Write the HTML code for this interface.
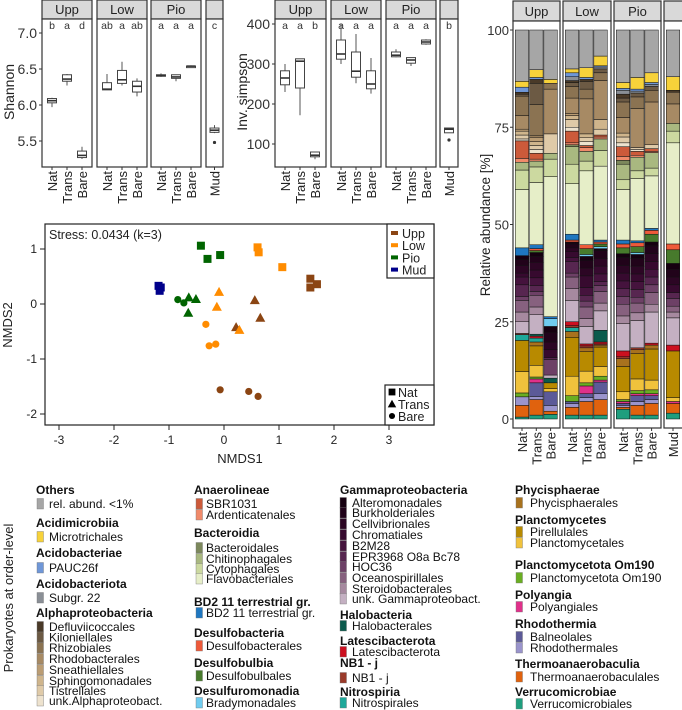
<!DOCTYPE html>
<html><head><meta charset="utf-8">
<style>
html,body{margin:0;padding:0;background:#fff;}
svg{display:block;font-family:"Liberation Sans",Arial,sans-serif;}
</style></head>
<body>
<svg id="fig" width="682" height="710" viewBox="0 0 682 710"></svg>
<script>
// ---------- DATA ----------
const groups = ["Upp","Low","Pio"];
const treatments = ["Nat","Trans","Bare"];
// boxplot stats: [min,q1,median,q3,max]
const shannonStats = [
 [5.97,6.03,6.06,6.09,6.10],[6.27,6.33,6.36,6.42,6.43],[5.25,5.27,5.30,5.36,5.42],
 [6.21,6.21,6.22,6.31,6.43],[6.27,6.30,6.35,6.48,6.60],[6.12,6.18,6.26,6.33,6.37],
 [6.39,6.40,6.41,6.42,6.44],[6.33,6.37,6.39,6.42,6.42],[6.53,6.53,6.54,6.54,6.55]];
const shannonMud = [5.61,5.62,5.65,5.68,5.72];
const shannonMudOutlier = 5.48;
const shannonLetters = ["b","a","d","ab","a","ab","a","a","a"];
const shannonMudLetter = "c";
const shannonTicks = [5.5,6.0,6.5,7.0];
const simpsonStats = [
 [230,248,265,283,300],[172,240,307,313,313],[62,68,72,80,80],
 [300,312,325,360,400],[252,267,282,330,375],[226,238,250,283,315],
 [317,318,322,330,337],[295,302,310,316,316],[348,350,355,360,362]];
const simpsonMud = [128,128,137,140,140];
const simpsonMudOutlier = 110;
const simpsonLetters = ["a","a","b","a","a","a","a","a","a"];
const simpsonMudLetter = "b";
const simpsonTicks = [100,200,300,400];

// NMDS points
const nmdsGroup = ["Upp","Upp","Upp","Upp","Upp","Upp","Upp","Upp","Upp",
 "Low","Low","Low","Low","Low","Low","Low","Low","Low",
 "Pio","Pio","Pio","Pio","Pio","Pio","Pio","Pio",
 "Mud","Mud","Mud"];
const nmdsShape = ["Nat","Nat","Nat","Trans","Trans","Trans","Bare","Bare","Bare",
 "Nat","Nat","Nat","Trans","Trans","Trans","Bare","Bare","Bare",
 "Nat","Nat","Nat","Trans","Trans","Trans","Bare","Bare",
 "Nat","Nat","Nat"];
const nmdsX = [1.57,1.57,1.69,0.56,0.66,0.22,-0.07,0.45,0.62,
 0.61,0.63,1.06,-0.09,-0.13,0.28,-0.33,-0.27,-0.15,
 -0.42,-0.30,-0.07,-0.64,-0.51,-0.65,-0.84,-0.73,
 -1.19,-1.15,-1.17];
const nmdsY = [0.46,0.30,0.36,0.07,-0.25,-0.42,-1.56,-1.59,-1.68,
 1.03,0.94,0.67,0.22,-0.05,-0.47,-0.37,-0.76,-0.73,
 1.06,0.82,0.89,0.12,0.09,-0.16,0.08,0.02,
 0.33,0.30,0.24];
const nmdsXTicks = [-3,-2,-1,0,1,2,3];
const nmdsYTicks = [-2,-1,0,1];

// stacked bars (bottom -> top), Others = remainder
const stackOrder = ["Verrucomicrobiales","Thermoanaerobaculales","Rhodothermales","Balneolales","Polyangiales","Planctomycetota Om190","Planctomycetales","Pirellulales","Phycisphaerales","Nitrospirales","NB1 - j","Latescibacterota","Halobacterales",
 "unk. Gammaproteobact.","Steroidobacterales","Oceanospirillales","HOC36","EPR3968 O8a Bc78","B2M28","Chromatiales","Cellvibrionales","Burkholderiales","Alteromonadales",
 "Bradymonadales","Desulfobulbales","Desulfobacterales","BD2 11 terrestrial gr.",
 "Flavobacteriales","Cytophagales","Chitinophagales","Bacteroidales",
 "Ardenticatenales","SBR1031",
 "unk.Alphaproteobact.","Tistrellales","Sphingomonadales","Sneathiellales","Rhodobacterales","Rhizobiales","Kiloniellales","Defluviicoccales",
 "Subgr. 22","PAUC26f","Microtrichales"];
const stackColors = ["#1f9e7e","#e0620e","#9a94cc","#5c5a98","#e0308a","#6aae22","#f0c23c","#b88a00","#a8721e","#1ea89a","#9a3a2a","#cc1020","#0b5a4c",
 "#c4b0c2","#a6899f","#87617f","#6d4066","#572650","#45133d","#370a2f","#2c0624","#21031a","#160010",
 "#70ccef","#477a2c","#ee5a3a","#1f77c0",
 "#e6eec8","#ccd9a0","#a9b880","#7c885c",
 "#f08a6a","#cc5a3a",
 "#ede2ce","#dfcaa8","#cfb58c","#bb9d74","#a78a64","#8b7352","#6c5a44","#4a3a28",
 "#8a8f96","#6f97d8","#f7d23a"];
const othersColor = "#a6a6a6";
const barSamples = ["Upp-Nat","Upp-Trans","Upp-Bare","Low-Nat","Low-Trans","Low-Bare","Pio-Nat","Pio-Trans","Pio-Bare","Mud"];
const uppNat   = [0.5,3,2.2,0,0,1,5.5,8,0,1.5,0.3,0,0, 3,2.5,3,1,3,2,1,2,1.5,1, 0,0,0,2, 15,5,2,0, 1,4.5, 0.5,1,1,0.5,3.5,5,0.5,0.5, 0,1.3,1.5];
const uppTrans = [1,4,0.8,3.5,1,0.5,3,5,1,1,0,0.5,0.5, 5,2,3,1,1.5,2,2,2,1.5,1, 0,0.5,0.5,1, 16,4,1.5,0, 0.5,1.5, 1,1,1,1,0.5,8,5.5,1, 0,0.5,2];
const uppBare  = [1.2,0.8,1.5,3.5,0,0,0.8,1.5,0,0,0,0,1.2, 0.8,0,0,4,0.5,0,2,2,2.5,1.5, 2,0,0,0.5, 36,4.5,1.5,0, 0,0, 0,5,0,0,11.5,1.5,0,0, 0,0,1];
const lowNat   = [1,2,1,0.5,0,1.5,5,10,1.5,1,0.5,1,0, 5.5,3,3,1,3,1,1.5,1,1,0.5, 0,0,0.5,1.5, 13,5,4.5,0.5, 0.5,3, 1,2,1,0.5,4,3,1,0.5, 1,1,1];
const lowTrans = [1,3.5,1,1,2,0.8,3,5,1,0,0.5,0.5,0, 4.5,2,3,1.5,1.5,2,3,2,2,1, 0.5,1.5,1,0, 19,2.5,2.5,0, 1,0.5, 1,1,1,0,9,2.5,2,0.5, 0,0.5,2.5];
const lowBare  = [1,4,1.5,3,0.5,1,2.5,5,0.5,0,0.3,0.5,3, 5,2,3,1.5,1,2,2,2,2,0.5, 0.5,0.7,0.5,0.5, 19,4,3,0, 0.5,0.5, 0,1.5,2.5,0,10,2,1,0, 0.5,0.3,2.5];
const pioNat   = [2.5,0.5,0.5,0.5,0.5,0.5,2,6.5,2,0,0.5,1.5,0, 7,2,3,2,2,2,2,2,2,1, 0,1.5,1,1, 13,2.5,4,1, 1,2.5, 1,1.5,1,0,4,4,1,1, 1,0.5,1.5];
const pioTrans = [1,2.5,1,1.5,0.5,0.8,3,6.5,1,0,0.5,0,0, 7,2,2.5,1.5,2,2,2,2,2,1, 0.5,1.5,1,0.5, 16,2,3.5,0, 0.5,1, 0.5,0.5,0,0,10,3,1,0, 0.5,0.5,3];
const pioBare  = [1,3,1,1,0.5,1,2.5,8,1,0,0,0.5,0, 8,2,3,2,2,2,2,2,2,1, 0,2,1,0.5, 13.5,2,4,0, 0.3,0.7, 0,1,0,0,11,3,1,0, 0.5,0.5,2.5];
const mudVals  = [1.5,2.5,0,0,0.5,0,1,12,0,0,0,1.5,0, 7,1.5,1.5,2,1.5,0,2,2,2,1.5, 0,3.5,1.5,0, 26,3,2,0, 0,0, 0,0,0,0,5,3,0,0.5, 0,0,3.5];
const barValues = [uppNat,uppTrans,uppBare,lowNat,lowTrans,lowBare,pioNat,pioTrans,pioBare,mudVals];
const barTicks = [0,25,50,75,100];

// ---------- helpers ----------
const NS="http://www.w3.org/2000/svg";
const svg=document.getElementById('fig');
function el(tag,attrs,name,parent,inter){
  const e=document.createElementNS(NS,tag);
  for(const k in attrs) e.setAttribute(k,attrs[k]);
  
  
  (parent||svg).appendChild(e);
  return e;
}
function txt(x,y,s,opts,name,parent){
  const a=Object.assign({x:x,y:y,'font-size':13,fill:'#222'},opts||{});
  const t=el('text',a,name,parent);
  t.textContent=s;
  return t;
}

// ---------- boxplot panels ----------
function boxPanel(cfg){
  const g=el('g',{},cfg.name);
  const y=v=>cfg.y0+(v-cfg.v0)*cfg.k;
  const panels=cfg.panels;
  panels.forEach((p,pi)=>{
    el('rect',{x:p[0],y:0,width:p[1]-p[0],height:19,fill:'#d9d9d9',stroke:'#333','stroke-width':1.2},'facet-strip',g);
    if(pi<3) txt((p[0]+p[1])/2,14,groups[pi],{'text-anchor':'middle','font-size':13},'facet-label',g);
    el('rect',{x:p[0],y:19,width:p[1]-p[0],height:148,fill:'#fff',stroke:'#333','stroke-width':1.2},'facet-panel',g);
  });
  cfg.ticks.forEach(t=>{
    const yy=y(t);
    el('line',{x1:panels[0][0]-3,x2:panels[0][0],y1:yy,y2:yy,stroke:'#333'},'y-tick',g);
    txt(panels[0][0]-5,yy+5,cfg.fmt(t),{'text-anchor':'end','font-size':14,fill:'#333'},'y-tick-label',g);
  });
  txt(0,0,cfg.title,{'text-anchor':'middle','font-size':14,transform:`translate(${cfg.titleX},92) rotate(-90)`},'y-axis-title',g);
  function drawBox(cx,s,letter,lab){
    el('line',{x1:cx,x2:cx,y1:y(s[0]),y2:y(s[4]),stroke:'#555','stroke-width':1},'whisker',g);
    el('rect',{x:cx-4.5,y:y(s[3]),width:9,height:Math.max(1.5,y(s[1])-y(s[3])),fill:'#fff',stroke:'#444','stroke-width':1},'box',g);
    el('line',{x1:cx-4.5,x2:cx+4.5,y1:y(s[2]),y2:y(s[2]),stroke:'#333','stroke-width':1.6},'median',g);
    txt(cx,29,letter,{'text-anchor':'middle','font-size':10.5,fill:'#333'},'significance-letter',g);
    el('line',{x1:cx,x2:cx,y1:167,y2:170,stroke:'#333'},'x-tick',g);
    txt(0,0,lab,{'text-anchor':'end','font-size':13,fill:'#222',transform:`translate(${cx+5},171) rotate(-90)`},'x-tick-label',g);
  }
  for(let i=0;i<9;i++){
    const p=panels[Math.floor(i/3)];
    drawBox(p[0]+10+15*(i%3),cfg.stats[i],cfg.letters[i],treatments[i%3]);
  }
  const mp=panels[3], mcx=(mp[0]+mp[1])/2;
  drawBox(mcx,cfg.mud,cfg.mudLetter,"Mud");
  el('circle',{cx:mcx,cy:y(cfg.mudOut),r:1.6,fill:'#333'},'outlier',g);
}
boxPanel({name:'shannon-boxplot',panels:[[42,92],[97,147],[151,201],[206,223]],y0:105,v0:6.0,k:-72,
  ticks:shannonTicks,fmt:t=>t.toFixed(1),title:'Shannon',titleX:14,stats:shannonStats,letters:shannonLetters,
  mud:shannonMud,mudLetter:shannonMudLetter,mudOut:shannonMudOutlier});
boxPanel({name:'simpson-boxplot',panels:[[275,326],[331,381],[386,436],[440,458]],y0:144,v0:100,k:-0.4,
  ticks:simpsonTicks,fmt:t=>String(t),title:'Inv. simpson',titleX:247,stats:simpsonStats,letters:simpsonLetters,
  mud:simpsonMud,mudLetter:simpsonMudLetter,mudOut:simpsonMudOutlier});

// ---------- NMDS ----------
(function(){
  const g=el('g',{},'nmds-plot');
  const sx=v=>224+v*55, sy=v=>304-v*55;
  el('rect',{x:45,y:224,width:389,height:201,fill:'#fff',stroke:'#222','stroke-width':1.2},'plot-frame',g);
  nmdsXTicks.forEach(t=>{
    el('line',{x1:sx(t),x2:sx(t),y1:425,y2:430,stroke:'#222'},'x-tick',g);
    txt(sx(t),444,String(t),{'text-anchor':'middle','font-size':12},'x-tick-label',g);
  });
  nmdsYTicks.forEach(t=>{
    el('line',{x1:40,x2:45,y1:sy(t),y2:sy(t),stroke:'#222'},'y-tick',g);
    txt(37,sy(t)+4,String(t),{'text-anchor':'end','font-size':12},'y-tick-label',g);
  });
  txt(240,463,'NMDS1',{'text-anchor':'middle','font-size':13},'x-axis-title',g);
  txt(0,0,'NMDS2',{'text-anchor':'middle','font-size':13,transform:'translate(12,325) rotate(-90)'},'y-axis-title',g);
  txt(49,239,'Stress: 0.0434 (k=3)',{'font-size':12.5},'stress-label',g);
  const col={Upp:'#8b4513',Low:'#ff8c00',Pio:'#006400',Mud:'#00008b'};
  function shape(x,y,sh,c,name,parent,s){
    s=s||1;
    if(sh==='Nat') return el('rect',{x:x-4*s,y:y-4*s,width:8*s,height:8*s,fill:c},name,parent);
    if(sh==='Trans') return el('polygon',{points:`${x},${y-5*s} ${x+5*s},${y+4*s} ${x-5*s},${y+4*s}`,fill:c},name,parent);
    return el('circle',{cx:x,cy:y,r:3.6*s,fill:c},name,parent);
  }
  for(let i=0;i<nmdsX.length;i++){
    shape(sx(nmdsX[i]),sy(nmdsY[i]),nmdsShape[i],col[nmdsGroup[i]],'point-'+nmdsGroup[i].toLowerCase()+'-'+nmdsShape[i].toLowerCase(),g);
  }
  const lg=el('g',{},'legend-site',g);
  el('rect',{x:387,y:224,width:47,height:54,fill:'#fff',stroke:'#222','stroke-width':1.2},'legend-frame',lg);
  ['Upp','Low','Pio','Mud'].forEach((n,i)=>{
    el('rect',{x:391,y:231+i*12.2,width:7,height:4,fill:col[n]},'legend-swatch',lg);
    txt(402,238+i*12.2,n,{'font-size':12.5},'legend-entry',lg);
  });
  const lg2=el('g',{},'legend-treatment',g);
  el('rect',{x:385,y:385,width:49,height:40,fill:'#fff',stroke:'#222','stroke-width':1.2},'legend-frame',lg2);
  ['Nat','Trans','Bare'].forEach((n,i)=>{
    shape(392,392+i*12,n,'#000','legend-symbol',lg2,0.85);
    txt(398,397+i*12,n,{'font-size':12.5},'legend-entry',lg2);
  });
})();

// ---------- stacked bars ----------
(function(){
  const g=el('g',{},'stacked-barplot');
  const panels=[[513,560],[563,611],[614,661],[664,684]];
  const y=v=>419-v*3.89;
  panels.forEach((p,pi)=>{
    el('rect',{x:p[0],y:1,width:p[1]-p[0],height:20,fill:'#d9d9d9',stroke:'#333','stroke-width':1.2},'facet-strip',g);
    if(pi<3) txt((p[0]+p[1])/2,16,groups[pi],{'text-anchor':'middle','font-size':13},'facet-label',g);
    el('rect',{x:p[0],y:21,width:p[1]-p[0],height:407,fill:'#fff',stroke:'#333','stroke-width':1.2},'facet-panel',g);
  });
  barTicks.forEach(t=>{
    el('line',{x1:510,x2:513,y1:y(t),y2:y(t),stroke:'#333'},'y-tick',g);
    txt(509,y(t)+5,String(t),{'text-anchor':'end','font-size':13,fill:'#333'},'y-tick-label',g);
  });
  txt(0,0,'Relative abundance [%]',{'text-anchor':'middle','font-size':13.5,transform:'translate(490,225) rotate(-90)'},'y-axis-title',g);
  barValues.forEach((vals,bi)=>{
    let cx;
    if(bi<9){const p=panels[Math.floor(bi/3)];cx=p[0]+9+14.3*(bi%3);} else cx=673;
    const bg=el('g',{},'bar-'+barSamples[bi].toLowerCase(),g);
    let cum=0;
    vals.forEach((v,si)=>{
      if(v<=0) return;
      el('rect',{x:cx-6.75,y:y(cum+v),width:13.5,height:v*3.89,fill:stackColors[si],stroke:'#111','stroke-width':0.5},'segment-'+stackOrder[si].toLowerCase().replace(/[^a-z0-9]+/g,'-'),bg);
      cum+=v;
    });
    el('rect',{x:cx-6.75,y:y(100),width:13.5,height:(100-cum)*3.89,fill:othersColor,stroke:'#111','stroke-width':0.5},'segment-others',bg);
    el('line',{x1:cx,x2:cx,y1:428,y2:431,stroke:'#333'},'x-tick',g);
    const lab=bi<9?treatments[bi%3]:'Mud';
    txt(0,0,lab,{'text-anchor':'end','font-size':13,transform:`translate(${cx+5},432) rotate(-90)`},'x-tick-label',g);
  });
})();

// ---------- legend ----------
(function(){
  const g=el('g',{},'order-legend');
  txt(0,0,'Prokaryotes at order-level',{'text-anchor':'middle','font-size':13,transform:'translate(13,598) rotate(-90)'},'legend-title',g);
  const C=n=>stackColors[stackOrder.indexOf(n)];
  const cols=[
   {hx:36,sx:37,tx:49,items:[
    ['h','Others',494],['e','rel. abund. <1%',508,othersColor],
    ['h','Acidimicrobiia',527],['e','Microtrichales',541,C('Microtrichales')],
    ['h','Acidobacteriae',557],['e','PAUC26f',572,C('PAUC26f')],
    ['h','Acidobacteriota',588],['e','Subgr. 22',602,C('Subgr. 22')],
    ['h','Alphaproteobacteria',617],
    ['e','Defluviicoccales',631,C('Defluviicoccales')],['e','Kiloniellales',641.5,C('Kiloniellales')],
    ['e','Rhizobiales',652,C('Rhizobiales')],['e','Rhodobacterales',663,C('Rhodobacterales')],
    ['e','Sneathiellales',674,C('Sneathiellales')],['e','Sphingomonadales',685,C('Sphingomonadales')],
    ['e','Tistrellales',695,C('Tistrellales')],['e','unk.Alphaproteobact.',705,C('unk.Alphaproteobact.')]]},
   {hx:194,sx:196,tx:206,items:[
    ['h','Anaerolineae',494],['e','SBR1031',508,C('SBR1031')],['e','Ardenticatenales',519,C('Ardenticatenales')],
    ['h','Bacteroidia',537],['e','Bacteroidales',552,C('Bacteroidales')],['e','Chitinophagales',563,C('Chitinophagales')],
    ['e','Cytophagales',573,C('Cytophagales')],['e','Flavobacteriales',583,C('Flavobacteriales')],
    ['h','BD2 11 terrestrial gr.',606],['e','BD2 11 terrestrial gr.',617,C('BD2 11 terrestrial gr.')],
    ['h','Desulfobacteria',637],['e','Desulfobacterales',650,C('Desulfobacterales')],
    ['h','Desulfobulbia',667],['e','Desulfobulbales',680,C('Desulfobulbales')],
    ['h','Desulfuromonadia',695],['e','Bradymonadales',707,C('Bradymonadales')]]},
   {hx:340,sx:340,tx:352,items:[
    ['h','Gammaproteobacteria',494],
    ['e','Alteromonadales',507,C('Alteromonadales')],['e','Burkholderiales',517,C('Burkholderiales')],
    ['e','Cellvibrionales',528,C('Cellvibrionales')],['e','Chromatiales',539,C('Chromatiales')],
    ['e','B2M28',550,C('B2M28')],['e','EPR3968 O8a Bc78',561,C('EPR3968 O8a Bc78')],
    ['e','HOC36',571,C('HOC36')],['e','Oceanospirillales',582,C('Oceanospirillales')],
    ['e','Steroidobacterales',593,C('Steroidobacterales')],['e','unk. Gammaproteobact.',603,C('unk. Gammaproteobact.')],
    ['h','Halobacteria',619],['e','Halobacterales',630,C('Halobacterales')],
    ['h','Latescibacterota',645],['e','Latescibacterota',656,C('Latescibacterota')],
    ['h','NB1 - j',667],['e','NB1 - j',682,C('NB1 - j')],
    ['h','Nitrospiria',696],['e','Nitrospirales',707,C('Nitrospirales')]]},
   {hx:515,sx:516,tx:530,items:[
    ['h','Phycisphaerae',494],['e','Phycisphaerales',507,C('Phycisphaerales')],
    ['h','Planctomycetes',524],['e','Pirellulales',536,C('Pirellulales')],['e','Planctomycetales',547,C('Planctomycetales')],
    ['h','Planctomycetota Om190',569],['e','Planctomycetota Om190',582,C('Planctomycetota Om190')],
    ['h','Polyangia',599],['e','Polyangiales',611,C('Polyangiales')],
    ['h','Rhodothermia',628],['e','Balneolales',641,C('Balneolales')],['e','Rhodothermales',652,C('Rhodothermales')],
    ['h','Thermoanaerobaculia',668],['e','Thermoanaerobaculales',681,C('Thermoanaerobaculales')],
    ['h','Verrucomicrobiae',696],['e','Verrucomicrobiales',708,C('Verrucomicrobiales')]]}
  ];
  cols.forEach((c,ci)=>{
    const cg=el('g',{},'legend-column-'+(ci+1),g);
    c.items.forEach(it=>{
      if(it[0]==='h'){
        txt(c.hx,it[2],it[1],{'font-size':12,'font-weight':'bold',fill:'#111'},'legend-class-heading',cg);
      } else {
        el('rect',{x:c.sx,y:it[2]-9.5,width:6.5,height:10.5,fill:it[3],stroke:'#777','stroke-width':0.4},'legend-swatch',cg);
        txt(c.tx,it[2],it[1],{'font-size':12,fill:'#111'},'legend-entry',cg);
      }
    });
  });
})();
</script>
</body></html>
